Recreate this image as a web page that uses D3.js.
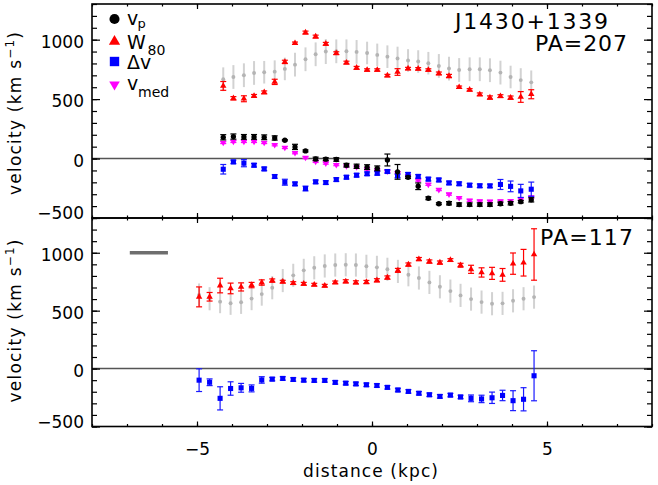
<!DOCTYPE html>
<html>
<head>
<meta charset="utf-8">
<script src="https://cdn.jsdelivr.net/npm/d3@7"></script>
<style>
  html, body { margin: 0; padding: 0; background: #fff; }
  svg { display: block; }
  text { font-family: "DejaVu Sans", sans-serif; fill: #000; }
</style>
</head>
<body>
<svg id="chart" width="658" height="485"></svg>
<script>
// ---------------- DATA ----------------
// Top panel (PA=207)
const xTop = [-4.25, -3.96, -3.66, -3.37, -3.08, -2.78, -2.49, -2.20, -1.90, -1.61, -1.32,
              -1.02, -0.73, -0.44, -0.14, 0.15, 0.44, 0.73, 1.03, 1.32, 1.61, 1.91, 2.20,
              2.49, 2.79, 3.08, 3.37, 3.67, 3.96, 4.25, 4.55];
const greyTop = [667, 686, 701, 720, 726, 731, 754, 790, 835, 877, 900, 902, 902, 897, 888, 872,
                 857, 841, 825, 816, 802, 779, 757, 745, 751, 751, 743, 723, 686, 660, 641];
const greyTopErr = [100, 100, 100, 100, 95, 95, 95, 100, 100, 100, 105, 100, 100, 100, 95, 95,
                    95, 100, 95, 95, 95, 100, 100, 100, 100, 100, 100, 100, 95, 100, 100];
const redTop = [611, 507, 503, 527, 557, 645, 813, 970, 1060, 1026, 965, 886, 807, 763, 745, 745,
                698, 728, 757, 755, 745, 716, 694, 600, 578, 540, 513, 525, 512, 518, 541];
const redTopErr = [37, 14, 25, 12, 12, 22, 14, 10, 12, 12, 12, 12, 12, 12, 10, 10,
                   10, 28, 10, 10, 10, 12, 14, 10, 10, 12, 14, 12, 14, 45, 38];
const vpTop = [179, 185, 182, 182, 179, 173, 154, 98, 64, -3, -5, -8, -56, -65, -72, -82,
               -12, -112, -158, -233, -334, -380, -376, -387, -387, -387, -387, -380, -376, -363, -347];
const vpTopErr = [22, 22, 20, 20, 20, 18, 5, 22, 8, 15, 12, 15, 15, 18, 20, 20,
                  50, 62, 10, 28, 12, 8, 14, 14, 14, 14, 14, 14, 14, 10, 18];
const vmedTop = [134, 143, 143, 143, 134, 115, 92, 48, 8, -25, -39, -52, -62, -72, -88, -98,
                 -108, -120, -146, -182, -218, -262, -300, -330, -352, -358, -360, -358, -355, -340, -325];
const vmedTopErr = [8, 8, 8, 8, 8, 8, 8, 8, 8, 8, 8, 8, 8, 8, 8, 8,
                    8, 8, 8, 8, 8, 8, 8, 8, 8, 8, 8, 8, 8, 8, 8];
const dvTop = [-90, -28, -39, -56, -87, -151, -199, -213, -252, -196, -202, -177, -157, -140, -128, -124,
               -109, -146, -133, -150, -173, -180, -205, -212, -224, -229, -230, -218, -234, -272, -258];
const dvTopErr = [40, 15, 30, 15, 15, 15, 25, 15, 20, 15, 15, 15, 15, 15, 15, 15,
                  15, 15, 15, 15, 15, 15, 15, 15, 15, 15, 15, 42, 45, 55, 60];

// Bottom panel (PA=117)
const xBot = [-4.94, -4.64, -4.34, -4.04, -3.74, -3.44, -3.15, -2.85, -2.55, -2.25, -1.95,
              -1.65, -1.35, -1.05, -0.75, -0.46, -0.16, 0.14, 0.44, 0.74, 1.04, 1.34,
              1.64, 1.94, 2.24, 2.53, 2.83, 3.13, 3.43, 3.73, 4.03, 4.33, 4.63];
const greyBot = [635, 603, 578, 564, 572, 604, 643, 698, 760, 805, 848, 870, 886, 894, 896, 894,
                 883, 874, 857, 839, 810, 782, 744, 706, 669, 632, 600, 574, 560, 563, 585, 603, 617];
const greyBotErr = [100, 100, 100, 100, 100, 100, 100, 100, 100, 100, 100, 100, 100, 100, 100, 100,
                    100, 100, 100, 100, 100, 100, 100, 100, 100, 100, 100, 100, 100, 100, 100, 100, 100];
const redBot = [619, 620, 717, 692, 705, 721, 743, 760, 750, 738, 732, 724, 715, 744, 753, 744,
                747, 762, 786, 848, 898, 945, 924, 915, 937, 892, 857, 830, 822, 809, 906, 914, 985];
const redBotErr = [86, 37, 63, 46, 35, 23, 23, 14, 12, 12, 12, 12, 12, 12, 14, 14,
                   14, 14, 14, 17, 14, 14, 14, 14, 12, 17, 35, 40, 52, 55, 92, 115, 222];
const dvBot = [-100, -118, -257, -172, -166, -171, -98, -91, -85, -94, -100, -102, -102, -119, -126, -132,
               -140, -146, -162, -185, -197, -213, -226, -240, -229, -245, -257, -262, -252, -232, -277, -265, -62];
const dvBotErr = [98, 29, 100, 58, 38, 30, 28, 15, 15, 15, 15, 15, 15, 15, 15, 15,
                  15, 15, 15, 15, 15, 15, 15, 15, 15, 15, 29, 32, 49, 45, 86, 100, 216];

// Resolution bar (bottom panel)
const resBarX = [-6.92, -5.83];
const resBarY = 1000;

// Axes
const xDomain = [-8, 8];
const yDomain = [-500, 1300];
const xMajor = [-5, 0, 5];
const xTickLabels = ["\u22125", "0", "5"];
const yMajor = [-500, 0, 500, 1000];
const yTickLabels = ["\u2212500", "0", "500", "1000"];

// ---------------- DRAWING ----------------
const svg = d3.select("#chart");
svg.append("rect").attr("width", 658).attr("height", 485).attr("fill", "#fff");

const left = 92, right = 652;
const x = d3.scaleLinear().domain(xDomain).range([left, right]);
const panels = [
  { top: 4, bottom: 218 },
  { top: 218, bottom: 426.5 }
];
panels.forEach(p => { p.y = d3.scaleLinear().domain(yDomain).range([p.bottom, p.top]); });

const xMinor = d3.range(-8, 8.001, 1);
const yMinor = d3.range(-500, 1300.001, 100);

function drawAxes(p, showX) {
  const g = svg.append("g");
  const mk = (axis, tx, ty) => {
    const a = g.append("g").attr("transform", `translate(${tx},${ty})`).call(axis);
    a.select(".domain").remove();
    a.selectAll("line").attr("stroke", "#000").attr("stroke-width", 1.2);
    return a;
  };
  mk(d3.axisLeft(p.y).tickValues(yMinor).tickSize(-5).tickFormat(""), left, 0);
  mk(d3.axisRight(p.y).tickValues(yMinor).tickSize(-5).tickFormat(""), right, 0);
  mk(d3.axisRight(p.y).tickValues(yMajor).tickSize(-8).tickFormat(""), right, 0);
  const yl = mk(d3.axisLeft(p.y).tickValues(yMajor).tickSize(-8).tickPadding(8)
      .tickFormat((d, i) => yTickLabels[i]), left, 0);
  yl.attr("font-family", null).attr("font-size", null);
  yl.selectAll("text").attr("font-size", 17).attr("dy", d => d === -500 ? "0.03em" : "0.45em")
    .style("font-family", "'DejaVu Sans', sans-serif");
  mk(d3.axisBottom(x).tickValues(xMinor).tickSize(-2.5).tickFormat(""), 0, p.bottom);
  mk(d3.axisTop(x).tickValues(xMinor).tickSize(-2.5).tickFormat(""), 0, p.top);
  mk(d3.axisTop(x).tickValues(xMajor).tickSize(-5).tickFormat(""), 0, p.top);
  const xl = mk(d3.axisBottom(x).tickValues(xMajor).tickSize(-5).tickPadding(16.5)
      .tickFormat((d, i) => showX ? xTickLabels[i] : ""), 0, p.bottom);
  xl.attr("font-family", null).attr("font-size", null);
  xl.selectAll("text").attr("font-size", 17).style("font-family", "'DejaVu Sans', sans-serif");
}

function zeroLine(p) {
  svg.append("line").attr("x1", x(xDomain[0])).attr("x2", x(xDomain[1]))
    .attr("y1", p.y(0)).attr("y2", p.y(0)).attr("stroke", "#555").attr("stroke-width", 1.5);
}

function errBars(p, xs, ys, es, color, cap, width) {
  const g = svg.append("g").attr("stroke", color).attr("stroke-width", width).attr("fill", "none");
  xs.forEach((xv, i) => {
    const cx = x(xv), y1 = p.y(ys[i] - es[i]), y2 = p.y(ys[i] + es[i]);
    g.append("line").attr("x1", cx).attr("x2", cx).attr("y1", y1).attr("y2", y2);
    if (cap > 0) {
      g.append("line").attr("x1", cx - cap).attr("x2", cx + cap).attr("y1", y1).attr("y2", y1);
      g.append("line").attr("x1", cx - cap).attr("x2", cx + cap).attr("y1", y2).attr("y2", y2);
    }
  });
}

function markers(p, xs, ys, type, size, color, rot = 0) {
  const sym = d3.symbol().type(type).size(size);
  svg.append("g").selectAll("path").data(xs).join("path")
    .attr("d", sym)
    .attr("transform", (d, i) => `translate(${x(d)},${p.y(ys[i])}) rotate(${rot})`)
    .attr("fill", color);
}

// --- Top panel
const P0 = panels[0], P1 = panels[1];
zeroLine(P0);
errBars(P0, xTop, greyTop, greyTopErr, "#d2d2d2", 0, 2);
markers(P0, xTop, greyTop, d3.symbolCircle, 12, "#b4b4b4");
errBars(P0, xTop, redTop, redTopErr, "#ff0000", 3, 1.2);
markers(P0, xTop, redTop, d3.symbolTriangle, 18, "#ff0000");
errBars(P0, xTop, vmedTop, vmedTopErr, "#ff00ff", 3, 1.2);
markers(P0, xTop, vmedTop, d3.symbolTriangle, 18, "#ff00ff", 180);
errBars(P0, xTop, dvTop, dvTopErr, "#1a1aff", 3, 1.2);
markers(P0, xTop, dvTop, d3.symbolSquare, 26, "#0000ff");
errBars(P0, xTop, vpTop, vpTopErr, "#000", 3, 1.2);
markers(P0, xTop, vpTop, d3.symbolCircle, 22, "#000");

// --- Bottom panel
zeroLine(P1);
errBars(P1, xBot, greyBot, greyBotErr, "#d2d2d2", 0, 2);
markers(P1, xBot, greyBot, d3.symbolCircle, 12, "#b4b4b4");
errBars(P1, xBot, redBot, redBotErr, "#ff0000", 3, 1.2);
markers(P1, xBot, redBot, d3.symbolTriangle, 18, "#ff0000");
errBars(P1, xBot, dvBot, dvBotErr, "#1a1aff", 3, 1.2);
markers(P1, xBot, dvBot, d3.symbolSquare, 26, "#0000ff");

svg.append("line").attr("x1", x(resBarX[0])).attr("x2", x(resBarX[1]))
  .attr("y1", P1.y(resBarY)).attr("y2", P1.y(resBarY))
  .attr("stroke", "#6e6e6e").attr("stroke-width", 3.5);

// axes + frames
drawAxes(P0, false);
drawAxes(P1, true);
panels.forEach(p => {
  svg.append("rect").attr("x", left).attr("y", p.top).attr("width", right - left)
    .attr("height", p.bottom - p.top).attr("fill", "none").attr("stroke", "#000").attr("stroke-width", 1.6);
});

// Titles
svg.append("text").attr("x", 455).attr("y", 28.5).attr("font-size", 22)
  .attr("textLength", 153).attr("lengthAdjust", "spacing").text("J1430+1339");
svg.append("text").attr("x", 535).attr("y", 51).attr("font-size", 22)
  .attr("textLength", 92).attr("lengthAdjust", "spacing").text("PA=207");
svg.append("text").attr("x", 540).attr("y", 245).attr("font-size", 22)
  .attr("textLength", 93).attr("lengthAdjust", "spacing").text("PA=117");

// Axis titles
svg.append("text").attr("x", 370.5).attr("y", 477).attr("font-size", 17).attr("text-anchor", "middle")
  .attr("textLength", 135).attr("lengthAdjust", "spacing").text("distance (kpc)");

panels.forEach((p, i) => {
  const cy = i === 0 ? 113.5 : 321;
  const t = svg.append("text").attr("transform", `translate(21,${cy}) rotate(-90)`)
    .attr("text-anchor", "middle").attr("font-size", 17)
    .attr("textLength", 163).attr("lengthAdjust", "spacing");
  t.append("tspan").text("velocity (km s");
  t.append("tspan").attr("font-size", 12).attr("dy", -7).text("\u22121");
  t.append("tspan").attr("dy", 7).text(")");
});

// Legend
const leg = svg.append("g");
const lx = 114.5, tx = 127;
leg.append("path").attr("d", d3.symbol().type(d3.symbolCircle).size(80)())
  .attr("transform", `translate(${lx},19)`).attr("fill", "#000");
leg.append("text").attr("x", tx).attr("y", 24.5).attr("font-size", 19).text("v");
leg.append("text").attr("x", 137.5).attr("y", 27.5).attr("font-size", 13).text("p");

leg.append("path").attr("d", d3.symbol().type(d3.symbolTriangle).size(55)())
  .attr("transform", `translate(${lx},41.5)`).attr("fill", "#ff0000");
leg.append("text").attr("x", tx).attr("y", 48.5).attr("font-size", 19).text("W");
leg.append("text").attr("x", 147.5).attr("y", 54.5).attr("font-size", 14).text("80");

leg.append("path").attr("d", d3.symbol().type(d3.symbolSquare).size(88)())
  .attr("transform", `translate(${lx},61.5)`).attr("fill", "#0000ff");
leg.append("text").attr("x", tx).attr("y", 68.5).attr("font-size", 19).text("\u0394v");

leg.append("path").attr("d", d3.symbol().type(d3.symbolTriangle).size(48)())
  .attr("transform", `translate(${lx},84.5) rotate(180)`).attr("fill", "#ff00ff");
leg.append("text").attr("x", tx).attr("y", 89.5).attr("font-size", 19).text("v");
leg.append("text").attr("x", 138).attr("y", 96.7).attr("font-size", 14).text("med");
</script>
</body>
</html>
